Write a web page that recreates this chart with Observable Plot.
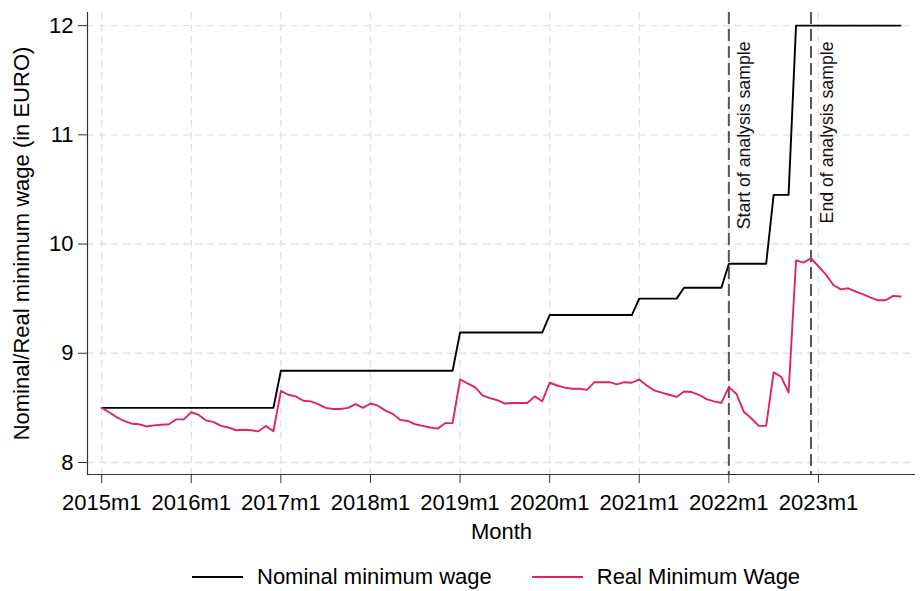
<!DOCTYPE html>
<html>
<head>
<meta charset="utf-8">
<script src="https://cdn.jsdelivr.net/npm/d3@7"></script>
<script src="https://cdn.jsdelivr.net/npm/@observablehq/plot@0.6"></script>
<style>
  html, body { margin: 0; padding: 0; background: #fff; }
  body { width: 924px; height: 591px; overflow: hidden; font-family: "Liberation Sans", Arial, sans-serif; }
  #legend { display: flex; align-items: center; height: 46px; padding-left: 192px; font-size: 22px; color: #000; box-sizing: border-box; padding-top: 18px; }
  #legend .sw { display: inline-block; width: 51px; height: 2px; }
  #legend .lb { margin-left: 14px; margin-right: 40px; white-space: nowrap; }
</style>
</head>
<body>
<div id="chart"></div>
<div id="legend"></div>
<script>
// ---- data ----
const startYear = 2015;
const monthIndex = d3.range(108); // 2015m1 .. 2023m12
const nominal = [
  8.50,8.50,8.50,8.50,8.50,8.50,8.50,8.50,8.50,8.50,8.50,8.50,
  8.50,8.50,8.50,8.50,8.50,8.50,8.50,8.50,8.50,8.50,8.50,8.50,
  8.84,8.84,8.84,8.84,8.84,8.84,8.84,8.84,8.84,8.84,8.84,8.84,
  8.84,8.84,8.84,8.84,8.84,8.84,8.84,8.84,8.84,8.84,8.84,8.84,
  9.19,9.19,9.19,9.19,9.19,9.19,9.19,9.19,9.19,9.19,9.19,9.19,
  9.35,9.35,9.35,9.35,9.35,9.35,9.35,9.35,9.35,9.35,9.35,9.35,
  9.50,9.50,9.50,9.50,9.50,9.50,9.60,9.60,9.60,9.60,9.60,9.60,
  9.82,9.82,9.82,9.82,9.82,9.82,10.45,10.45,10.45,12.00,12.00,12.00,
  12.00,12.00,12.00,12.00,12.00,12.00,12.00,12.00,12.00,12.00,12.00,12.00
];
const real = [
  8.500,8.460,8.415,8.380,8.355,8.350,8.330,8.340,8.345,8.350,8.395,8.395,
  8.460,8.435,8.385,8.370,8.335,8.320,8.295,8.300,8.295,8.285,8.335,8.285,
  8.655,8.620,8.605,8.565,8.560,8.535,8.500,8.490,8.490,8.500,8.535,8.500,
  8.540,8.520,8.475,8.445,8.390,8.380,8.350,8.335,8.320,8.310,8.360,8.360,
  8.760,8.725,8.690,8.615,8.590,8.570,8.540,8.545,8.545,8.545,8.605,8.560,
  8.730,8.705,8.685,8.675,8.675,8.665,8.735,8.735,8.735,8.715,8.735,8.730,
  8.760,8.705,8.660,8.640,8.620,8.600,8.650,8.645,8.620,8.580,8.560,8.545,
  8.690,8.630,8.465,8.405,8.335,8.335,8.825,8.785,8.640,9.850,9.830,9.870,
  9.795,9.720,9.625,9.585,9.595,9.565,9.540,9.510,9.485,9.485,9.525,9.520
];
const seriesNames = ["Nominal minimum wage", "Real Minimum Wage"];
const seriesColors = ["#000000", "#e0245e"];
const tickMonths = [0, 12, 24, 36, 48, 60, 72, 84, 96];
const tickLabels = ["2015m1","2016m1","2017m1","2018m1","2019m1","2020m1","2021m1","2022m1","2023m1"];
const yTicks = [8, 9, 10, 11, 12];
const refMonths = [84, 95];
const refLabels = ["Start of analysis sample", "End of analysis sample"];
const xTitle = "Month";
const yTitle = "Nominal/Real minimum wage (in EURO)";

// ---- chart ----
const xDomain = [-1.9, 109];
const yDomain = [7.89, 12.12];
const rows = monthIndex.map((m, i) => ({m, nominal: nominal[i], real: real[i]}));
const gridStyle = {stroke: "#e2e2e2", strokeWidth: 1.4, strokeDasharray: "7,5"};

const chart = Plot.plot({
  width: 924,
  height: 545,
  marginLeft: 87,
  marginRight: 9,
  marginTop: 12,
  marginBottom: 71,
  style: {fontFamily: "'Liberation Sans', Arial, sans-serif", fontSize: "22px", color: "#000", background: "#fff", overflow: "visible"},
  x: {domain: xDomain},
  y: {domain: yDomain},
  marks: [
    Plot.ruleY(yTicks, {y: d => d, ...gridStyle}),
    Plot.ruleX(tickMonths, {x: d => d, ...gridStyle}),
    Plot.ruleX(refMonths, {x: d => d, stroke: "#555", strokeWidth: 2, strokeDasharray: "12,5"}),
    Plot.text(refMonths, {x: d => d, text: (d, i) => refLabels[i], frameAnchor: "top", rotate: -90, textAnchor: "end", dx: 9, dy: 29, fontSize: 17.7, fill: "#111"}),
    Plot.line(rows, {x: "m", y: "nominal", stroke: seriesColors[0], strokeWidth: 1.9}),
    Plot.line(rows, {x: "m", y: "real", stroke: seriesColors[1], strokeWidth: 1.9}),
    Plot.ruleY([yDomain[0]], {stroke: "#333", strokeWidth: 1.2}),
    Plot.ruleX([xDomain[0]], {stroke: "#333", strokeWidth: 1.2}),
    Plot.axisX({ticks: tickMonths, tickFormat: d => tickLabels[tickMonths.indexOf(d)], tickSize: 9, tickPadding: 11, stroke: "#333",
      label: xTitle, labelAnchor: "center", labelArrow: "none", labelOffset: 64}),
    Plot.axisY({ticks: yTicks, tickFormat: d => String(d), tickSize: 9, tickPadding: 5, stroke: "#333",
      label: yTitle, labelAnchor: "center", labelArrow: "none", labelOffset: 74})
  ]
});
document.getElementById("chart").appendChild(chart);

// ---- legend ----
const legend = document.getElementById("legend");
seriesNames.forEach((name, i) => {
  const sw = document.createElement("span");
  sw.className = "sw";
  sw.style.background = seriesColors[i];
  const lb = document.createElement("span");
  lb.className = "lb";
  lb.textContent = name;
  legend.appendChild(sw);
  legend.appendChild(lb);
});
</script>
</body>
</html>
